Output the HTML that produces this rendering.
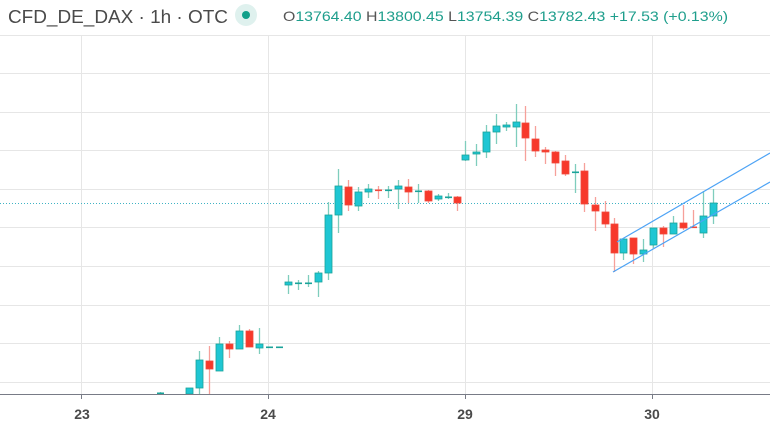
<!DOCTYPE html>
<html><head><meta charset="utf-8"><style>
html,body{margin:0;padding:0;background:#fff;width:770px;height:427px;overflow:hidden;font-family:"Liberation Sans",sans-serif}
</style></head><body>
<svg id="s" width="770" height="427" xmlns="http://www.w3.org/2000/svg" style="position:absolute;left:0;top:0">
<g stroke="#e6e6e6" stroke-width="1">
<line x1="0" y1="35.5" x2="770" y2="35.5"/><line x1="0" y1="73.5" x2="770" y2="73.5"/><line x1="0" y1="112.5" x2="770" y2="112.5"/><line x1="0" y1="150.5" x2="770" y2="150.5"/><line x1="0" y1="189.5" x2="770" y2="189.5"/><line x1="0" y1="227.5" x2="770" y2="227.5"/><line x1="0" y1="266.5" x2="770" y2="266.5"/><line x1="0" y1="305.5" x2="770" y2="305.5"/><line x1="0" y1="343.5" x2="770" y2="343.5"/><line x1="0" y1="382.5" x2="770" y2="382.5"/>
<line x1="81.5" y1="0" x2="81.5" y2="394"/><line x1="268.5" y1="0" x2="268.5" y2="394"/><line x1="465.5" y1="0" x2="465.5" y2="394"/><line x1="652.5" y1="0" x2="652.5" y2="394"/>
</g>
<line x1="0" y1="203.5" x2="770" y2="203.5" stroke="#3fb3c4" stroke-width="1" stroke-dasharray="1,2"/>
<g id="c"></g>
<g stroke="#4da3f5" stroke-width="1.2">
<line x1="617" y1="242" x2="770" y2="153"/>
<line x1="613" y1="272" x2="770" y2="182"/>
</g>
<rect x="0" y="394" width="770" height="33" fill="#fff"/>
<line x1="0" y1="394.5" x2="770" y2="394.5" stroke="#787b86" stroke-width="1"/>
<g stroke="#787b86"><line x1="81.5" y1="394" x2="81.5" y2="399"/><line x1="268.5" y1="394" x2="268.5" y2="399"/><line x1="465.5" y1="394" x2="465.5" y2="399"/><line x1="652.5" y1="394" x2="652.5" y2="399"/></g>
<g font-size="14" font-weight="bold" fill="#4a4a4a" text-anchor="middle">
<text x="82" y="419">23</text><text x="268" y="419">24</text><text x="465" y="419">29</text><text x="652" y="419">30</text>
</g>
<rect x="0" y="0" width="770" height="35" fill="#fff"/>
<line x1="0" y1="35.5" x2="770" y2="35.5" stroke="#e6e6e6"/>
<text x="8" y="23" font-size="18" fill="#4a4a4a" textLength="220" lengthAdjust="spacingAndGlyphs">CFD_DE_DAX · 1h · OTC</text>
<circle cx="246" cy="15" r="11" fill="#dff1ee"/>
<circle cx="246" cy="15" r="4" fill="#11a08a"/>
<text x="283" y="21" font-size="14" fill="#1e9e8c" textLength="445" lengthAdjust="spacingAndGlyphs"><tspan fill="#555">O</tspan>13764.40 <tspan fill="#555">H</tspan>13800.45 <tspan fill="#555">L</tspan>13754.39 <tspan fill="#555">C</tspan>13782.43 +17.53 (+0.13%)</text>
</svg>
<script>
var d=[
[160,393,393,392,394],[189,394,388,388,394],[199,388,360,351,394],[209,361,369,346,394],[219,371,344,337,371],[229,344,349,341,358],[239,349,331,325,349],[249,331,347,329,347],[259,348,344,328,354],[269,347,347,347,347],[279,347,347,347,347],
[288,285,282,275,294],[298,283,283,280,290],[308,284,283,275,287],[318,282,273,271,297],[328,273,215,202,280],[338,215,186,169,233],[348,187,205,180,211],[358,206,192,187,211],[368,192,189,184,198],[378,190,191,186,199],[388,190,190,186,198],[398,189,186,180,209],[408,187,192,179,203],[418,192,191,184,203],[428,191,201,190,203],[438,199,196,194,201],[448,197,197,193,199],[457,197,203,196,211],
[465,160,155,141,161],[476,154,152,144,166],[486,152,132,125,158],[496,132,126,114,144],[506,127,125,122,131],[516,127,122,104,147],[525,123,138,106,161],[535,139,151,126,157],[545,150,152,147,164],[555,152,163,151,176],[565,161,174,155,176],[575,172,172,164,193],[584,171,204,163,212],[595,205,211,197,231],[605,212,224,201,228],[614,224,253,218,272],[623,253,239,239,260],[633,238,254,238,264],[643,254,250,239,262],[653,245,228,228,248],[663,228,234,226,247],[673,234,223,216,234],[683,223,228,205,230],[693,227,228,210,228],[703,233,216,191,238],[713,216,203,189,224]];
var h='';
d.forEach(function(c){var x=c[0],o=c[1],cl=c[2],hi=c[3],lo=c[4];
var red=cl>o;var wc=red?'#f6a09a':'#7fcdbd';var fc=red?'#f7392b':'#1fc6d3';var sc=red?'#f0493c':'#1aa39a';
h+='<line x1="'+(x+0.5)+'" y1="'+hi+'" x2="'+(x+0.5)+'" y2="'+lo+'" stroke="'+wc+'" stroke-width="1.3"/>';
var t=Math.min(o,cl),b=Math.max(o,cl);if(b-t<1.5){h+='<rect x="'+(x-3)+'" y="'+(t-0.5)+'" width="7" height="1.6" fill="'+sc+'"/>';}
else h+='<rect x="'+(x-3)+'" y="'+t+'" width="7" height="'+(b-t)+'" fill="'+fc+'" stroke="'+sc+'" stroke-width="0.8"/>';});
document.getElementById('c').innerHTML=h;
</script>
</body></html>
